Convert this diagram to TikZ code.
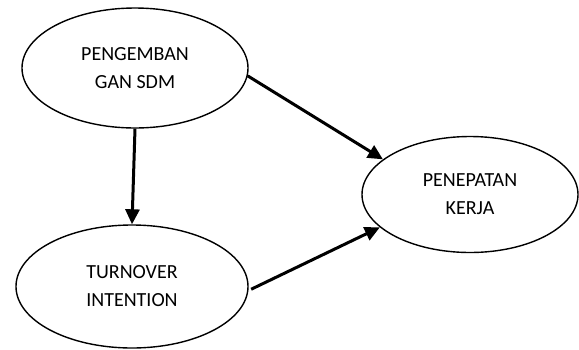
\documentclass[tikz,border=0pt]{standalone}
\usepackage{fontspec}
\setmainfont{Carlito}
\usetikzlibrary{shapes.geometric,arrows.meta}
\begin{document}
\begin{tikzpicture}[x=1pt,y=-1pt,
  var/.style={draw,ellipse,line width=1.4pt,inner sep=0pt,align=center,
    font=\fontsize{20}{28}\selectfont},
  link/.style={line width=3pt,-{Triangle[length=15pt,width=14pt]}}]
\useasboundingbox (0,0) rectangle (579,349);
\node[var,minimum width=226pt,minimum height=120pt] (pg) at (135,68) {PENGEMBAN\\GAN SDM};
\node[var,minimum width=232pt,minimum height=123pt] (ti) at (132,286.5) {TURNOVER\\INTENTION};
\node[var,minimum width=216pt,minimum height=116pt] (pk) at (470,194.5) {PENEPATAN\\KERJA};
\draw[link] (pg.south) -- (ti.north);
\draw[link] (pg.-4) -- (pk.158.5);
\draw[link,shorten <=3pt] (ti.-2) -- (pk.200.5);
\end{tikzpicture}
\end{document}
